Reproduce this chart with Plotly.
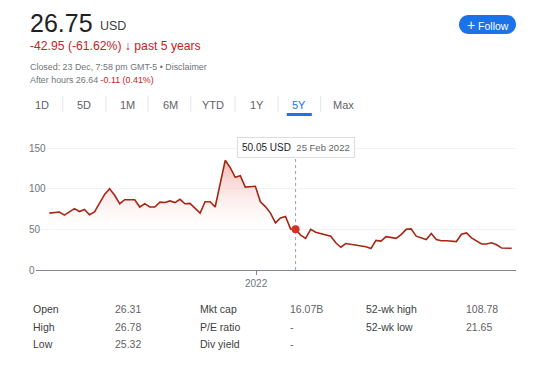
import pandas as pd
import plotly.graph_objects as go

# ---------------- data ----------------
start_date = "2021-03-19"
weeks = [0, 2, 3, 5, 6, 7, 8, 9, 11, 12, 13, 14, 15, 17, 18, 19, 20, 21, 22, 23,
         24, 25, 26, 27, 28, 30, 31, 32, 33, 35, 36, 37, 38, 39, 41, 42, 43, 44,
         45, 46, 47, 48, 49, 50, 51, 52, 53, 54, 55, 56, 57, 58, 59, 61, 63, 64,
         65, 66, 67, 69, 70, 71, 72, 73, 75, 76, 77, 78, 79, 81, 82, 83, 84, 86,
         87, 88, 89, 90, 92]
prices = [70, 71.4, 67.5, 75.5, 72, 74.5, 68, 71.4, 93, 100, 92, 81.6, 86.5, 86.5,
          77.5, 81.6, 77.5, 77.5, 83.6, 83, 85, 83, 87, 81.5, 82, 70, 84, 84, 77.5,
          135, 126, 114, 116, 102, 103, 84, 78, 70, 58, 64, 66, 50.6, 50.05, 43, 39,
          50, 46.5, 45, 43, 41.6, 33.5, 28, 32.6, 31, 28.6, 26.5, 36.5, 35.5, 41, 39,
          43.5, 50, 50.6, 41.6, 37.5, 45, 37.5, 36, 36, 35, 44, 45.7, 39.5, 32, 32,
          33.5, 31, 27, 26.75]
hover_week = 49
y_ticks = [0, 50, 100, 150]
x_tick_dates = ["2022-01-01"]
x_tick_labels = ["2022"]
tabs = ["1D", "5D", "1M", "6M", "YTD", "1Y", "5Y", "Max"]
active_tab = "5Y"
stats_labels_1 = ["Open", "High", "Low"]
stats_values_1 = ["26.31", "26.78", "25.32"]
stats_labels_2 = ["Mkt cap", "P/E ratio", "Div yield"]
stats_values_2 = ["16.07B", "-", "-"]
stats_labels_3 = ["52-wk high", "52-wk low"]
stats_values_3 = ["108.78", "21.65"]

dates = [pd.Timestamp(start_date) + pd.Timedelta(weeks=w) for w in weeks]
hi = weeks.index(hover_week)

# ---------------- geometry (window pixels; page body has an 8px margin) ----------------
WIN_W, WIN_H = 558, 366
OFF = 8
W, H = WIN_W - OFF, WIN_H - OFF
L, R, T, B = 36, 516, 140, 270   # plot area in window pixels


def px(x):
    return (x - L) / (R - L)


def py(y):
    return (B - y) / (B - T)


FONT = "Arial, Liberation Sans, sans-serif"
DARK = "#202124"
GREY = "#5f6368"
LIGHT = "#70757a"
RED = "#c5221f"
BLUE = "#1a73e8"

fig = go.Figure()
fig.add_trace(go.Scatter(
    x=dates, y=prices, mode="lines",
    line=dict(color="#a52714", width=1.6),
    fill="tozeroy",
    fillgradient=dict(type="vertical", start=40, stop=140,
                      colorscale=[[0, "rgba(255,255,255,0)"],
                                  [1, "rgba(226,65,55,0.42)"]]),
    hoverinfo="skip", showlegend=False,
))
fig.add_trace(go.Scatter(
    x=[dates[hi]], y=[prices[hi]], mode="markers",
    marker=dict(size=8, color="#d93025"),
    hoverinfo="skip", showlegend=False,
))

# x range from the pixel mapping of the data
days_per_px = (dates[-1] - dates[0]) / (511.7 - 49.3)
x0 = dates[0] - days_per_px * (49.3 - L)
x1 = dates[-1] + days_per_px * (R - 511.7)

shapes = []
ann = []

# hover guide line
shapes.append(dict(type="line", xref="x", yref="paper", x0=dates[hi], x1=dates[hi],
                   y0=0, y1=py(158), line=dict(color="#9aa0a6", width=1, dash="dot"),
                   layer="below"))
ann.append(dict(xref="x", yref="paper", x=dates[hi], y=py(147.5),
                xanchor="center", yanchor="middle", showarrow=False,
                text=f"<span style='color:{DARK}'>{prices[hi]:.2f} USD</span> "
                     f"<span style='color:{GREY};font-size:9.5px'> "
                     f"{dates[hi].strftime('%d %b %Y')}</span>",
                font=dict(family=FONT, size=10), bgcolor="white",
                bordercolor="#dadce0", borderwidth=1, borderpad=4))

# y tick labels, left aligned
for v in y_ticks:
    ann.append(dict(xref="paper", yref="y", x=px(27), y=v, xanchor="left",
                    yanchor="middle", showarrow=False, text=str(v),
                    font=dict(family=FONT, size=10, color=LIGHT)))

# header
ann.append(dict(xref="paper", yref="paper", x=px(28), y=py(23), xanchor="left",
                yanchor="middle", showarrow=False, text="26.75",
                font=dict(family=FONT, size=25, color=DARK)))
ann.append(dict(xref="paper", yref="paper", x=px(98), y=py(25.5), xanchor="left",
                yanchor="middle", showarrow=False, text="USD",
                font=dict(family=FONT, size=12.5, color="#3c4043")))
ann.append(dict(xref="paper", yref="paper", x=px(28), y=py(46), xanchor="left",
                yanchor="middle", showarrow=False,
                text="-42.95 (-61.62%) <b>\u2193</b> past 5 years",
                font=dict(family=FONT, size=12.2, color=RED)))
ann.append(dict(xref="paper", yref="paper", x=px(28), y=py(67), xanchor="left",
                yanchor="middle", showarrow=False,
                text="Closed: 23 Dec, 7:58 pm GMT-5 \u2022 Disclaimer",
                font=dict(family=FONT, size=8.9, color=LIGHT)))
ann.append(dict(xref="paper", yref="paper", x=px(28), y=py(80), xanchor="left",
                yanchor="middle", showarrow=False,
                text=f"After hours 26.64 <span style='color:{RED}'>-0.11 (0.41%)</span>",
                font=dict(family=FONT, size=8.9, color=LIGHT)))

# follow button (pill)
bx0, bx1, by0, by1 = 459, 516, 15, 34
r = (by1 - by0) / 2
k = 0.5523 * r
path = (f"M {px(bx0 + r)},{py(by0)} L {px(bx1 - r)},{py(by0)} "
        f"C {px(bx1 - r + k)},{py(by0)} {px(bx1)},{py(by0 + r - k)} {px(bx1)},{py(by0 + r)} "
        f"C {px(bx1)},{py(by1 - r + k)} {px(bx1 - r + k)},{py(by1)} {px(bx1 - r)},{py(by1)} "
        f"L {px(bx0 + r)},{py(by1)} "
        f"C {px(bx0 + r - k)},{py(by1)} {px(bx0)},{py(by1 - r + k)} {px(bx0)},{py(by0 + r)} "
        f"C {px(bx0)},{py(by0 + r - k)} {px(bx0 + r - k)},{py(by0)} {px(bx0 + r)},{py(by0)} Z")
shapes.append(dict(type="path", xref="paper", yref="paper", path=path,
                   fillcolor=BLUE, line=dict(width=0)))
ann.append(dict(xref="paper", yref="paper", x=px(487.5), y=py(24.5), xanchor="center",
                yanchor="middle", showarrow=False,
                text="<span style='font-size:14px'>+</span> Follow",
                font=dict(family=FONT, size=10.5, color="white")))

# tabs
tab_x = [41.7, 84.3, 127.3, 170.7, 213.3, 256.7, 299.3, 343.3]
sep_x = [62.7, 106, 148, 190.7, 235, 278, 320.7]
for t, x in zip(tabs, tab_x):
    ann.append(dict(xref="paper", yref="paper", x=px(x), y=py(104.5), xanchor="center",
                    yanchor="middle", showarrow=False, text=t,
                    font=dict(family=FONT, size=11,
                              color=BLUE if t == active_tab else GREY)))
for x in sep_x:
    shapes.append(dict(type="line", xref="paper", yref="paper", x0=px(x), x1=px(x),
                       y0=py(96), y1=py(112), line=dict(color="#e3e5e8", width=1)))
ax = tab_x[tabs.index(active_tab)]
shapes.append(dict(type="rect", xref="paper", yref="paper", x0=px(ax - 12.5),
                   x1=px(ax + 12.5), y0=py(116), y1=py(113), fillcolor=BLUE,
                   line=dict(width=0)))

# stats table
rows_y = [309, 326.7, 344]
cols = [(31, stats_labels_1, "#3c4043"), (113, stats_values_1, GREY),
        (198, stats_labels_2, "#3c4043"), (288, stats_values_2, GREY),
        (364, stats_labels_3, "#3c4043"), (464, stats_values_3, GREY)]
for cx, items, col in cols:
    for yy, txt in zip(rows_y, items):
        ann.append(dict(xref="paper", yref="paper", x=px(cx), y=py(yy), xanchor="left",
                        yanchor="middle", showarrow=False, text=txt,
                        font=dict(family=FONT, size=10.5, color=col)))

fig.update_layout(
    width=W, height=H, autosize=False,
    margin=dict(l=L - OFF, r=WIN_W - R, t=T - OFF, b=WIN_H - B, pad=0),
    paper_bgcolor="white", plot_bgcolor="white",
    font=dict(family=FONT, color=LIGHT),
    showlegend=False,
    xaxis=dict(range=[x0, x1], showgrid=False, zeroline=False, showline=True,
               linecolor="#80868b", linewidth=1, ticks="outside", ticklen=4,
               tickcolor="#80868b", tickvals=[pd.Timestamp(d) for d in x_tick_dates],
               ticktext=x_tick_labels, tickfont=dict(family=FONT, size=10, color=LIGHT),
               fixedrange=True),
    yaxis=dict(range=[0, 160], tickvals=y_ticks, showticklabels=False, showgrid=True,
               gridcolor="#f1f3f4", gridwidth=1, zeroline=False, showline=False,
               fixedrange=True),
    shapes=shapes, annotations=ann,
)

fig.write_html("out.html")
